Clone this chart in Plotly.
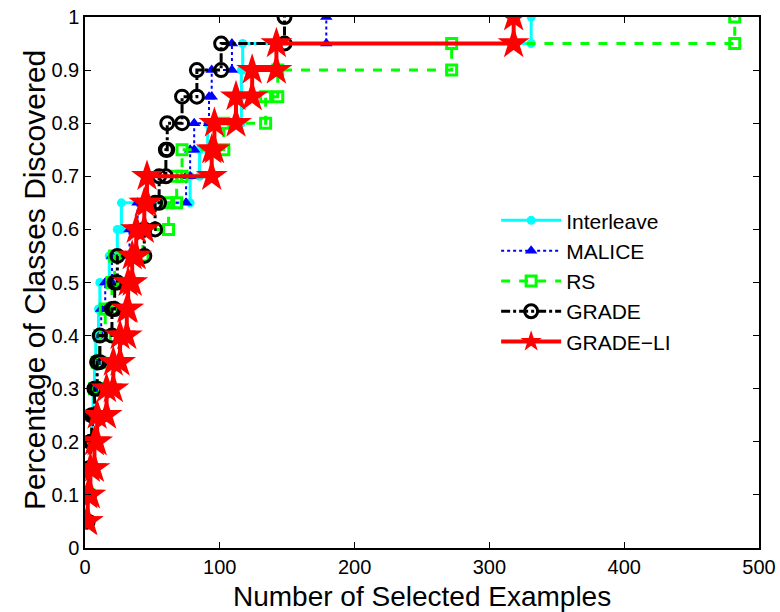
import plotly.graph_objects as go

# fraction of classes discovered after each new class (20 classes)
levels = [round(0.05 * k, 2) for k in range(1, 21)]

# number of selected examples at which each new class was discovered
interleave_x = [1, 2, 3, 4, 5, 6, 7, 8, 10, 11, 18, 24, 27, 78, 85, 91, 116, 116, 117, 331]
malice_x = [1, 2, 3, 4, 6, 7, 9, 11, 12, 15, 20, 33, 39, 75, 78, 81, 92, 94, 109, 179]
rs_x = [1, 2, 3, 4, 5, 7, 9, 11, 15, 20, 22, 43, 62, 68, 72, 103, 134, 143, 272, 482]
grade_x = [1, 2, 3, 4, 5, 7, 9, 11, 20, 22, 24, 44, 52, 55, 60, 61, 72, 83, 101, 148]
gradeli_x = [1.5, 2, 4, 7, 9, 16, 21, 26, 31, 32, 35, 38, 44, 46, 94, 96, 112, 124, 142, 318]

names = ["Interleave", "MALICE", "RS", "GRADE", "GRADE\u2212LI"]
x_title = "Number of Selected Examples"
y_title = "Percentage of Classes Discovered"


def stairs(xs, ys):
    sx, sy = [xs[0]], [ys[0]]
    for i in range(1, len(xs)):
        sx += [xs[i], xs[i]]
        sy += [ys[i - 1], ys[i]]
    return sx, sy


styles = [
    dict(line=dict(color="#00FFFF", width=3, dash="solid"),
         marker=dict(symbol="circle", size=9, color="#00FFFF")),
    dict(line=dict(color="#0000FF", width=2, dash="dot"),
         marker=dict(symbol="triangle-up", size=11, color="#0000FF")),
    dict(line=dict(color="#00FF00", width=3, dash="dash"),
         marker=dict(symbol="square-open", size=10, color="#00FF00", line=dict(width=3))),
    dict(line=dict(color="#000000", width=3, dash="dashdot"),
         marker=dict(symbol="circle-open", size=13, color="#000000", line=dict(width=3))),
    dict(line=dict(color="#FF0000", width=4, dash="solid"),
         marker=dict(symbol="star", size=24, color="#FF0000")),
]

fig = go.Figure()
for name, xs, st in zip(names, [interleave_x, malice_x, rs_x, grade_x, gradeli_x], styles):
    sx, sy = stairs(xs, levels)
    fig.add_trace(go.Scatter(x=sx, y=sy, mode="lines+markers", name=name, **st))

font = "Liberation Sans, Arial, Helvetica, sans-serif"
axis_common = dict(
    showgrid=False, zeroline=False, showline=True, linecolor="black", linewidth=1.5,
    mirror="ticks", ticks="inside", ticklen=6, tickcolor="black", automargin=False,
    tickfont=dict(family=font, size=20, color="black"),
)
fig.update_xaxes(range=[0, 500], tickvals=[0, 100, 200, 300, 400, 500],
                 **axis_common)
fig.update_yaxes(range=[0, 1], tickvals=[0, 0.1, 0.2, 0.3, 0.4, 0.5, 0.6, 0.7, 0.8, 0.9, 1],
                 ticktext=["0", "0.1", "0.2", "0.3", "0.4", "0.5", "0.6", "0.7", "0.8", "0.9", "1"],
                 **axis_common)
fig.add_annotation(text=x_title, xref="paper", yref="paper", x=0.5, y=-0.092,
                   xanchor="center", yanchor="middle", showarrow=False,
                   font=dict(family=font, size=28, color="black"))
fig.add_annotation(text=y_title, xref="paper", yref="paper", x=-0.074, y=0.505,
                   xanchor="center", yanchor="middle", showarrow=False, textangle=-90,
                   font=dict(family=font, size=30, color="black"))
fig.update_layout(
    width=780, height=612,
    margin=dict(l=85, r=21, t=17, b=64),
    paper_bgcolor="white", plot_bgcolor="white",
    legend=dict(x=0.61, y=0.655, xanchor="left", yanchor="top", bgcolor="rgba(255,255,255,0)",
                font=dict(family=font, size=21, color="black"), tracegroupgap=0, itemwidth=60),
    showlegend=True,
)
fig.write_html("out.html")
